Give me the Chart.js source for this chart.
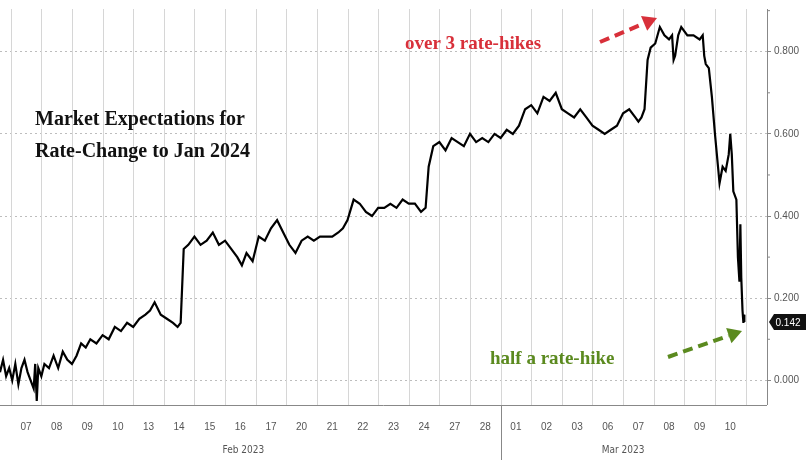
<!DOCTYPE html>
<html><head><meta charset="utf-8">
<script src="https://cdn.jsdelivr.net/npm/chart.js@4"></script>
<style>html,body{margin:0;padding:0;background:#fff}#w{width:807px;height:460px}</style>
</head><body><div id="w"><canvas id="c"></canvas></div>
<script>
const dayLabels=["07","08","09","10","13","14","15","16","17","20","21","22","23","24","27","28","01","02","03","06","07","08","09","10"];
const monthLabels=[{text:"Feb 2023",at:7.1},{text:"Mar 2023",at:19.5}];
const yTicks=[0,0.2,0.4,0.6,0.8];
const lastValue=0.142;
const times=[-0.85,-0.75,-0.65,-0.55,-0.45,-0.35,-0.25,-0.15,-0.05,0.05,0.15,0.25,0.3,0.35,0.4,0.5,0.6,0.75,0.9,1.05,1.2,1.35,1.5,1.65,1.8,1.95,2.1,2.3,2.5,2.7,2.9,3.1,3.3,3.5,3.7,3.9,4.05,4.2,4.4,4.6,4.8,4.95,5.05,5.15,5.3,5.5,5.7,5.9,6.1,6.3,6.5,6.7,6.9,7.05,7.2,7.4,7.6,7.8,8.0,8.2,8.4,8.6,8.8,9.0,9.2,9.4,9.6,9.8,10.0,10.2,10.35,10.5,10.7,10.9,11.1,11.3,11.5,11.7,11.9,12.1,12.3,12.5,12.7,12.9,13.05,13.15,13.3,13.5,13.7,13.9,14.1,14.3,14.5,14.7,14.9,15.1,15.3,15.5,15.7,15.9,16.1,16.3,16.5,16.7,16.9,17.1,17.3,17.5,17.7,17.9,18.1,18.3,18.5,18.7,18.9,19.1,19.3,19.5,19.7,19.9,20.0,20.1,20.2,20.3,20.4,20.55,20.7,20.85,21.0,21.1,21.15,21.2,21.3,21.4,21.6,21.8,22.0,22.1,22.15,22.2,22.3,22.4,22.5,22.6,22.65,22.75,22.85,22.95,23.0,23.05,23.1,23.2,23.25,23.3,23.33,23.36,23.4,23.43,23.45,23.46];
const values=[0.02,0.05,0.01,0.03,0.0,0.04,-0.01,0.03,0.05,0.02,0.0,-0.02,0.04,-0.05,0.03,0.01,0.04,0.03,0.06,0.03,0.07,0.05,0.04,0.06,0.09,0.08,0.10,0.09,0.11,0.10,0.13,0.12,0.14,0.13,0.15,0.16,0.17,0.19,0.16,0.15,0.14,0.13,0.14,0.32,0.33,0.35,0.33,0.34,0.36,0.33,0.34,0.32,0.30,0.28,0.31,0.29,0.35,0.34,0.37,0.39,0.36,0.33,0.31,0.34,0.35,0.34,0.35,0.35,0.35,0.36,0.37,0.39,0.44,0.43,0.41,0.40,0.42,0.42,0.43,0.42,0.44,0.43,0.43,0.41,0.42,0.52,0.57,0.58,0.56,0.59,0.58,0.57,0.60,0.58,0.59,0.58,0.60,0.59,0.61,0.60,0.62,0.66,0.67,0.65,0.69,0.68,0.70,0.66,0.65,0.64,0.66,0.64,0.62,0.61,0.60,0.61,0.62,0.65,0.66,0.64,0.63,0.64,0.66,0.78,0.81,0.82,0.86,0.84,0.83,0.84,0.78,0.79,0.84,0.86,0.84,0.84,0.83,0.84,0.79,0.77,0.76,0.69,0.60,0.52,0.48,0.52,0.51,0.55,0.60,0.55,0.46,0.44,0.30,0.24,0.38,0.25,0.17,0.14,0.16,0.142];

const deco={id:'deco',
 beforeDatasetsDraw(ch){const c=ch.ctx,a=ch.chartArea,x=ch.scales.x;
  c.save();c.strokeStyle='#d6d6d6';c.lineWidth=1;
  for(let i=0;i<=dayLabels.length;i++){const px=Math.round(x.getPixelForValue(i-0.5))+0.5;if(px<a.left||px>a.right)continue;c.beginPath();c.moveTo(px,a.top);c.lineTo(px,a.bottom);c.stroke();}
  c.restore();},
 afterDraw(ch){const c=ch.ctx,a=ch.chartArea,x=ch.scales.x,y=ch.scales.y;
  c.save();
  c.strokeStyle='#888';c.lineWidth=1;
  c.beginPath();c.moveTo(a.left,a.bottom+0.5);c.lineTo(a.right,a.bottom+0.5);c.moveTo(a.right+0.5,a.top);c.lineTo(a.right+0.5,a.bottom);c.stroke();
  const sep=Math.round(x.getPixelForValue(15.5))+0.5;c.beginPath();c.moveTo(sep,a.bottom);c.lineTo(sep,460);c.stroke();
  c.fillStyle='#555';c.font='10px "Liberation Sans Narrow", "DejaVu Sans Condensed", sans-serif';c.textAlign='center';
  monthLabels.forEach(m=>c.fillText(m.text,x.getPixelForValue(m.at),453));
  for(let v=0.1;v<0.9;v+=0.2){const py=y.getPixelForValue(v);c.beginPath();c.moveTo(a.right,py);c.lineTo(a.right+3,py);c.stroke();}
  c.fillStyle='#111';c.textAlign='left';c.font='bold 20px "Liberation Serif", serif';
  c.fillText('Market Expectations for',35,125);c.fillText('Rate-Change to Jan 2024',35,157);
  c.font='bold 19px "Liberation Serif", serif';
  c.fillStyle='#d8303a';c.fillText('over 3 rate-hikes',405,49);
  c.fillStyle='#5b8a1f';c.fillText('half a rate-hike',490,364);
  function arrow(x1,y1,x2,y2,col){c.strokeStyle=col;c.fillStyle=col;c.lineWidth=4;c.setLineDash([10,6]);
   const ang=Math.atan2(y2-y1,x2-x1),hx=x2-14*Math.cos(ang),hy=y2-14*Math.sin(ang);
   c.beginPath();c.moveTo(x1,y1);c.lineTo(hx,hy);c.stroke();c.setLineDash([]);
   c.beginPath();c.moveTo(x2,y2);c.lineTo(hx+8*Math.sin(ang),hy-8*Math.cos(ang));c.lineTo(hx-8*Math.sin(ang),hy+8*Math.cos(ang));c.closePath();c.fill();}
  arrow(600,42,657,18,'#d8303a');arrow(668,357,742,331,'#5b8a1f');
  const py=y.getPixelForValue(lastValue);
  c.fillStyle='#111';c.beginPath();c.moveTo(a.right+2,py);c.lineTo(a.right+7,py-8);c.lineTo(806,py-8);c.lineTo(806,py+8);c.lineTo(a.right+7,py+8);c.closePath();c.fill();
  c.fillStyle='#fff';c.font='10px "Liberation Sans Narrow", sans-serif';c.textAlign='center';c.textBaseline='middle';c.fillText(lastValue.toFixed(3),788,py+1);
  c.restore();}};

new Chart(document.getElementById('c'),{type:'line',
 data:{datasets:[{data:times.map((t,i)=>({x:t,y:values[i]})),borderColor:'#000',borderWidth:2.2,pointRadius:0,tension:0}]},
 options:{responsive:true,maintainAspectRatio:false,animation:false,
  layout:{padding:0},
  plugins:{legend:{display:false},tooltip:{enabled:false}},
  scales:{
   x:{type:'linear',min:-0.85,max:24.2,
     afterBuildTicks(s){s.ticks=dayLabels.map((_,i)=>({value:i}));},
     afterFit(s){s.height=55;},
     grid:{display:false},border:{display:false},
     ticks:{autoSkip:false,maxRotation:0,padding:8,color:'#555',font:{size:10,family:'"Liberation Sans Narrow", sans-serif'},callback:(v,i)=>dayLabels[i]}},
   y:{position:'right',min:-0.06,max:0.904,
     afterBuildTicks(s){s.ticks=yTicks.map(v=>({value:v}));},
     afterFit(s){s.width=40;},
     border:{display:false,dash:[2,3]},
     grid:{color:'#bdbdbd',drawTicks:true,tickLength:4,tickColor:'#888',tickBorderDash:[]},
     ticks:{padding:3,color:'#555',font:{size:10,family:'"Liberation Sans Narrow", sans-serif'},callback:v=>v.toFixed(3)}}
  }},
 plugins:[deco]});
</script></body></html>
